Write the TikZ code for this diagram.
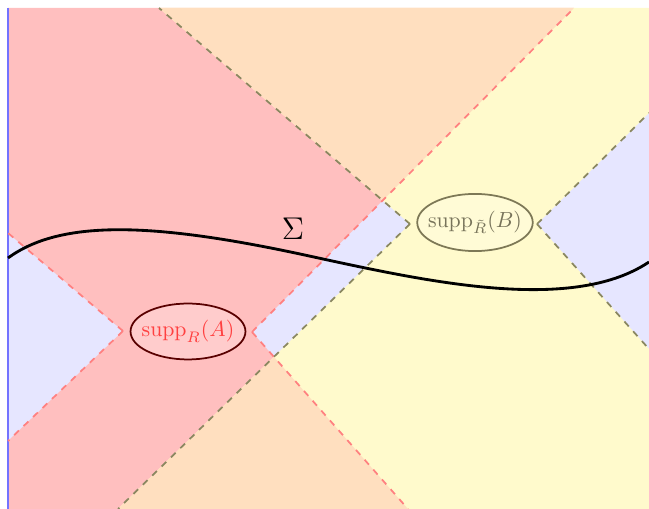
\documentclass[tikz,border=0pt]{standalone}
\usepackage{amsmath}
\usetikzlibrary{shapes.geometric}

\definecolor{lavande}{HTML}{E6E6FF}
\definecolor{rosA}{HTML}{FFBFBF}
\definecolor{jauneB}{HTML}{FFFACC}
\definecolor{peche}{HTML}{FFDFBF}
\definecolor{oliveB}{HTML}{8A8760}
\definecolor{bordB}{HTML}{7D7856}
\definecolor{texteB}{HTML}{77735A}
\definecolor{fondB}{HTML}{FFFBD6}

\begin{document}
\begin{tikzpicture}[x=0.0161cm, y=-0.0161cm,
    limA/.style={red!50, thick, dashed},
    limB/.style={oliveB, thick, dashed},
    suppA/.style={ellipse, draw=red!35!black, thick, fill=red!20, text=red!75,
        minimum width=1.85cm, minimum height=0.9cm, inner xsep=-3pt},
    suppB/.style={ellipse, draw=bordB, thick, fill=fondB, text=texteB,
        minimum width=1.86cm, minimum height=0.92cm, inner xsep=-3pt}]
        \useasboundingbox (0,0) rectangle (649,509);

        % Fond (hors des deux cones)
        \fill[lavande] (8,8) rectangle (649,509);

        % Pointes des losanges
        \coordinate (LA) at (123,331);
        \coordinate (RA) at (252,332);
        \coordinate (BL) at (410,224);
        \coordinate (BR) at (537,224);
        % Extremites sur les bords
        \coordinate (a1) at (8,233);
        \coordinate (a2) at (8,441);
        \coordinate (a3) at (574,8);
        \coordinate (a4) at (408,509);
        \coordinate (b1) at (159,8);
        \coordinate (b2) at (118,509);
        \coordinate (b3) at (649,113);
        \coordinate (b4) at (649,349);
        \coordinate (g1) at (8,8);
        \coordinate (g2) at (8,509);

        % ---- J(A) ----
        \fill[rosA] (g1) -- (a3) -- (RA) -- (a4) -- (g2) -- (a2) -- (LA) -- (a1) -- cycle;
        % ---- J(B) ----
        \fill[jauneB] (b1) -- (649,8) -- (b3) -- (BR) -- (b4) -- (649,509) -- (b2) -- (BL) -- cycle;
        % ---- intersection ----
        \begin{scope}
            \clip (g1) -- (a3) -- (RA) -- (a4) -- (g2) -- (a2) -- (LA) -- (a1) -- cycle;
            \fill[peche] (b1) -- (649,8) -- (b3) -- (BR) -- (b4) -- (649,509) -- (b2) -- (BL) -- cycle;
        \end{scope}

        % Bord
        \draw[blue!55, line width=1.2pt] (g1) -- (g2);

        % Rayons lumineux
        \foreach \p/\q in {LA/a1, LA/a2, RA/a3, RA/a4}{
            \draw[limA] (\p) -- (\q);
        }
        \foreach \p/\q in {BL/b1, BL/b2, BR/b3, BR/b4}{
            \draw[limB] (\p) -- (\q);
        }

        % Surface de Cauchy
        \draw[line width=1.3pt] (8,258) .. controls (60,220) and (150,222) .. (300,254)
            .. controls (420,280) and (570,315) .. (649,262);
        \node (sigma) at (293,229) {\Large $\Sigma$};

        % Supports
        \node[suppA] (A) at (188,331.5) {$\mathrm{supp}_R(A)$};
        \node[suppB] (B) at (475,222.5) {$\mathrm{supp}_{\tilde R}(B)$};

    \end{tikzpicture}
\end{document}
